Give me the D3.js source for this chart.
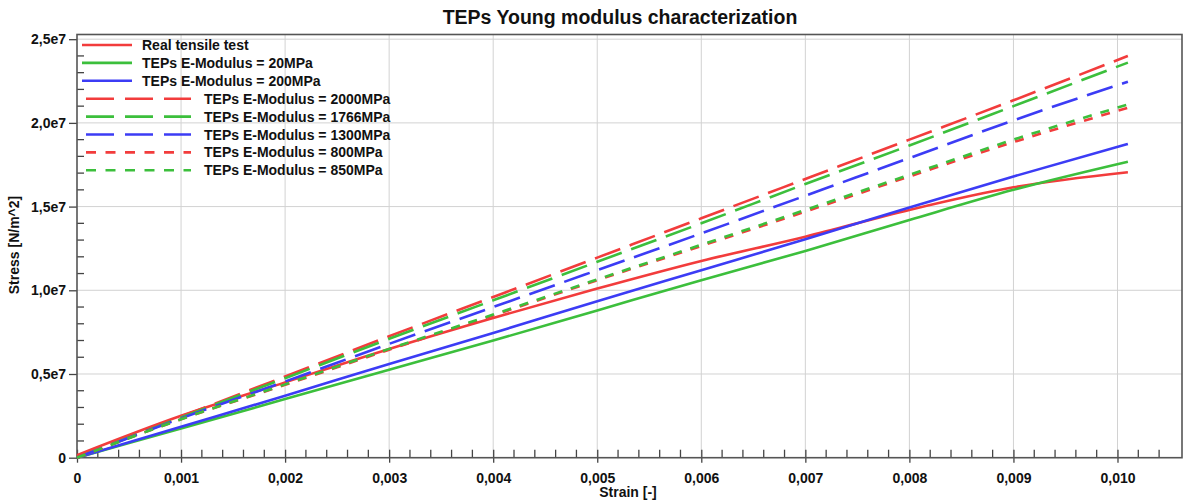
<!DOCTYPE html>
<html>
<head>
<meta charset="utf-8">
<script src="https://cdn.jsdelivr.net/npm/d3@7"></script>
<style>
    body { margin: 0; background: #fff; }
    svg { display: block; font-family: "Liberation Sans", Arial, sans-serif; }
    .tick-label { font-size: 14px; font-weight: bold; fill: #111; }
    .legend-text { font-size: 14px; font-weight: bold; fill: #111; }
</style>
</head>
<body>
<svg id="chart" width="1192" height="500"></svg>
<script>
// ── Data ───────────────────────────────────────────────────────────────────
const STRAIN = [0, 0.001, 0.002, 0.003, 0.004, 0.005, 0.006, 0.007, 0.008, 0.009, 0.0101];

const REAL_TEST = [1.5e5, 2.5e6, 4.5e6, 6.5e6, 8.35e6, 1.01e7, 1.175e7, 1.32e7, 1.48e7, 1.615e7, 1.705e7];
const E_20      = [0, 1.75e6, 3.5e6, 5.25e6, 7.0e6, 8.8e6, 1.06e7, 1.235e7, 1.42e7, 1.6e7, 1.768e7];
const E_200     = [0, 1.85e6, 3.7e6, 5.6e6, 7.45e6, 9.35e6, 1.12e7, 1.305e7, 1.495e7, 1.68e7, 1.874e7];
const E_2000    = [0, 2.45e6, 4.85e6, 7.25e6, 9.6e6, 1.195e7, 1.43e7, 1.665e7, 1.9e7, 2.135e7, 2.4e7];
const E_1766    = [0, 2.4e6, 4.75e6, 7.1e6, 9.4e6, 1.17e7, 1.4e7, 1.635e7, 1.865e7, 2.1e7, 2.36e7];
const E_1300    = [0, 2.35e6, 4.55e6, 6.8e6, 9.0e6, 1.12e7, 1.34e7, 1.565e7, 1.79e7, 2.015e7, 2.246e7];
const E_800     = [0, 2.3e6, 4.35e6, 6.45e6, 8.5e6, 1.06e7, 1.265e7, 1.47e7, 1.68e7, 1.885e7, 2.09e7];
const E_850     = [0, 2.3e6, 4.38e6, 6.5e6, 8.55e6, 1.065e7, 1.272e7, 1.48e7, 1.69e7, 1.9e7, 2.11e7];

const RED = "#f23c3c", GREEN = "#3cbf3c", BLUE = "#3c3cf5";

const SERIES = [
    { label: "Real tensile test",         values: REAL_TEST, color: RED,   dash: null,  kind: "solid" },
    { label: "TEPs E-Modulus = 20MPa",    values: E_20,      color: GREEN, dash: null,  kind: "solid" },
    { label: "TEPs E-Modulus = 200MPa",   values: E_200,     color: BLUE,  dash: null,  kind: "solid" },
    { label: "TEPs E-Modulus = 2000MPa",  values: E_2000,    color: RED,   dash: "27,10", kind: "long" },
    { label: "TEPs E-Modulus = 1766MPa",  values: E_1766,    color: GREEN, dash: "27,10", kind: "long" },
    { label: "TEPs E-Modulus = 1300MPa",  values: E_1300,    color: BLUE,  dash: "27,10", kind: "long" },
    { label: "TEPs E-Modulus = 800MPa",   values: E_800,     color: RED,   dash: "9,9",  kind: "short" },
    { label: "TEPs E-Modulus = 850MPa",   values: E_850,     color: GREEN, dash: "9,9",  kind: "short" },
];

const X_TICKS = [0, 0.001, 0.002, 0.003, 0.004, 0.005, 0.006, 0.007, 0.008, 0.009, 0.010];
const Y_TICKS = [0, 0.5e7, 1.0e7, 1.5e7, 2.0e7, 2.5e7];

// ── Layout ─────────────────────────────────────────────────────────────────
const plot = { left: 77, right: 1182, top: 34.5, bottom: 457.7 };

const svg = d3.select("#chart");

const x = d3.scaleLinear().domain([0, 0.01062]).range([plot.left, plot.right]);
const y = d3.scaleLinear().domain([0, 2.528e7]).range([plot.bottom, plot.top]);

const fmtX = d => d === 0 ? "0" : d3.format(".3f")(d).replace(".", ",");
const fmtY = d => d === 0 ? "0" : (d / 1e7).toFixed(1).replace(".", ",") + "e7";

// ── Grid ───────────────────────────────────────────────────────────────────
const grid = svg.append("g").attr("stroke", "#d2d2d2").attr("stroke-width", 1);
X_TICKS.filter(d => d > 0).forEach(d => {
    grid.append("line")
        .attr("x1", x(d)).attr("x2", x(d))
        .attr("y1", plot.top).attr("y2", plot.bottom);
});
Y_TICKS.filter(d => d > 0).forEach(d => {
    grid.append("line")
        .attr("x1", plot.left).attr("x2", plot.right)
        .attr("y1", y(d)).attr("y2", y(d));
});

// ── Axes ───────────────────────────────────────────────────────────────────
const xMinor = d3.range(0, 0.0106, 0.0002).filter(d => Math.abs(d / 0.001 - Math.round(d / 0.001)) > 1e-6);
const yMinor = d3.range(0, 2.52e7, 0.1e7).filter(d => Math.abs(d / 0.5e7 - Math.round(d / 0.5e7)) > 1e-6);

// x axis (ticks pointing inward for minor, crossing for major)
const xAxis = svg.append("g").attr("transform", `translate(0,${plot.bottom})`)
    .call(d3.axisBottom(x).tickValues(X_TICKS).tickFormat(fmtX).tickSize(5).tickPadding(10));
xAxis.select(".domain").remove();
xAxis.selectAll(".tick line").attr("y1", -8).attr("stroke", "#444").attr("stroke-width", 1.3);
xAxis.selectAll(".tick text").attr("class", "tick-label").attr("font-size", null).attr("font-family", null);
xAxis.selectAll(".minor").data(xMinor).join("line")
    .attr("x1", d => x(d)).attr("x2", d => x(d))
    .attr("y1", -8).attr("y2", 0)
    .attr("stroke", "#444").attr("stroke-width", 1.3);

// y axis (major ticks outward, minor inward)
const yAxis = svg.append("g").attr("transform", `translate(${plot.left},0)`)
    .call(d3.axisLeft(y).tickValues(Y_TICKS).tickFormat(fmtY).tickSize(8).tickPadding(3));
yAxis.select(".domain").remove();
yAxis.selectAll(".tick line").attr("stroke", "#444").attr("stroke-width", 1.3);
yAxis.selectAll(".tick text").attr("class", "tick-label").attr("font-size", null).attr("font-family", null);
yAxis.selectAll(".minor").data(yMinor).join("line")
    .attr("x1", 0).attr("x2", 7)
    .attr("y1", d => y(d)).attr("y2", d => y(d))
    .attr("stroke", "#444").attr("stroke-width", 1.3);

// frame
svg.append("rect")
    .attr("x", plot.left).attr("y", plot.top)
    .attr("width", plot.right - plot.left).attr("height", plot.bottom - plot.top)
    .attr("fill", "none").attr("stroke", "#555").attr("stroke-width", 1.6);

// ── Lines ──────────────────────────────────────────────────────────────────
const line = d3.line()
    .x((d, i) => x(STRAIN[i]))
    .y(d => y(d))
    .curve(d3.curveMonotoneX);

svg.append("g").selectAll("path")
    .data(SERIES).join("path")
    .attr("d", d => line(d.values))
    .attr("fill", "none")
    .attr("stroke", d => d.color)
    .attr("stroke-width", 2.6)
    .attr("stroke-dasharray", d => d.dash);

// ── Legend ─────────────────────────────────────────────────────────────────
const legend = svg.append("g");
SERIES.forEach((s, i) => {
    const ly = 45 + i * 17.9;
    const solid = s.kind === "solid";
    const x1 = solid ? 82 : 86, x2 = solid ? 132 : 191;
    legend.append("line")
        .attr("x1", x1).attr("x2", x2).attr("y1", ly).attr("y2", ly)
        .attr("stroke", s.color).attr("stroke-width", 2.6)
        .attr("stroke-dasharray", s.kind === "long" ? "28,11" : s.kind === "short" ? "10,9.5" : null);
    legend.append("text")
        .attr("class", "legend-text")
        .attr("x", solid ? 142 : 204).attr("y", ly + 5)
        .text(s.label);
});

// ── Titles ─────────────────────────────────────────────────────────────────
svg.append("text")
    .attr("x", 620).attr("y", 24)
    .attr("text-anchor", "middle")
    .attr("font-size", 19.5).attr("font-weight", "bold").attr("fill", "#111")
    .text("TEPs Young modulus characterization");

svg.append("text")
    .attr("x", 628).attr("y", 497)
    .attr("text-anchor", "middle")
    .attr("font-size", 14).attr("font-weight", "bold").attr("fill", "#111")
    .text("Strain [-]");

svg.append("text")
    .attr("transform", "translate(19,245) rotate(-90)")
    .attr("text-anchor", "middle")
    .attr("font-size", 14).attr("font-weight", "bold").attr("fill", "#111")
    .text("Stress [N/m^2]");
</script>
</body>
</html>
